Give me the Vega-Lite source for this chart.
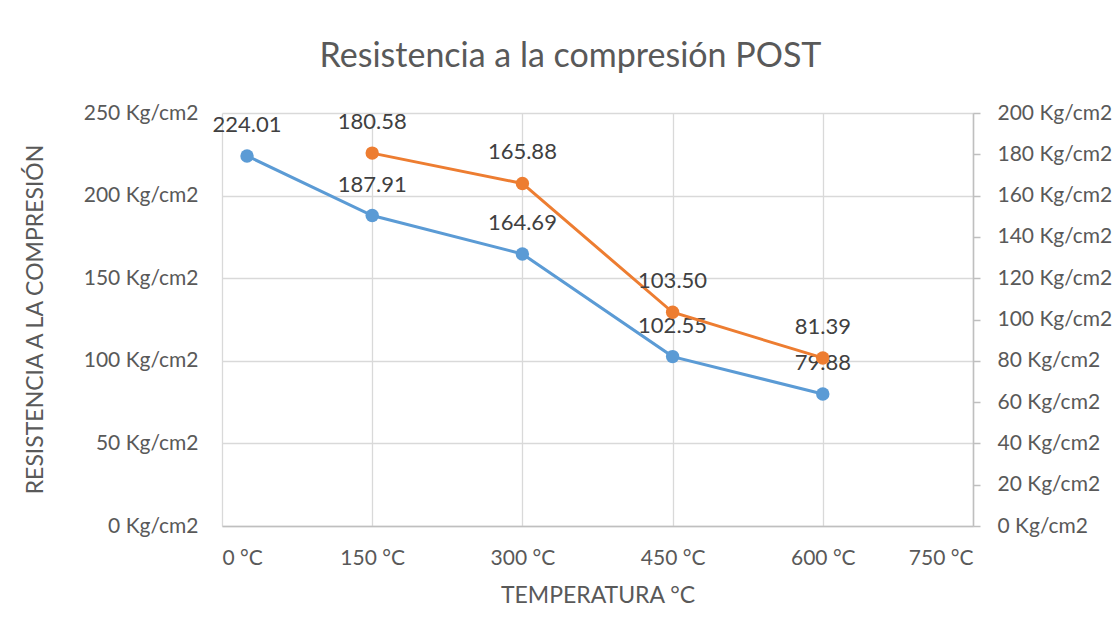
{
  "$schema": "https://vega.github.io/schema/vega-lite/v6.json",
  "autosize": "none",
  "width": 751,
  "height": 413,
  "padding": {"left": 222, "top": 113, "right": 143, "bottom": 111},
  "background": "white",
  "config": {
    "font": "Lato",
    "view": {"stroke": null},
    "axis": {"labelFont": "Lato", "titleFont": "Lato", "labelColor": "#595959", "titleColor": "#595959", "labelFontSize": 21, "titleFontSize": 23, "titleFontWeight": "normal", "gridColor": "#D9D9D9", "gridWidth": 1.3, "domainColor": "#BFBFBF", "domainWidth": 1.5, "tickColor": "#BFBFBF", "tickWidth": 1.5}
  },
  "title": {"text": "Resistencia a la compresión POST", "font": "Lato", "fontSize": 34, "fontWeight": "normal", "color": "#595959", "anchor": "middle", "frame": "group", "dx": -27, "offset": 28},
  "data": {"values": [
    {"serie": "A", "temp": 25, "valor": 224.01},
    {"serie": "A", "temp": 150, "valor": 187.91},
    {"serie": "A", "temp": 300, "valor": 164.69},
    {"serie": "A", "temp": 450, "valor": 102.55},
    {"serie": "A", "temp": 600, "valor": 79.88},
    {"serie": "B", "temp": 150, "valor": 180.58},
    {"serie": "B", "temp": 300, "valor": 165.88},
    {"serie": "B", "temp": 450, "valor": 103.5},
    {"serie": "B", "temp": 600, "valor": 81.39}
  ]},
  "encoding": {
    "x": {"field": "temp", "type": "quantitative",
      "scale": {"domain": [0, 750], "nice": false, "zero": false},
      "axis": {"values": [0, 150, 300, 450, 600, 750], "labelExpr": "datum.value + ' °C'", "grid": true, "ticks": false, "labelPadding": 21, "title": "TEMPERATURA °C", "titlePadding": 16}}
  },
  "layer": [
    {
      "transform": [{"filter": "datum.serie == 'A'"}],
      "encoding": {
        "y": {"field": "valor", "type": "quantitative",
          "scale": {"domain": [0, 250], "nice": false},
          "axis": {"orient": "left", "values": [0, 50, 100, 150, 200, 250], "labelExpr": "datum.value + ' Kg/cm2'", "grid": true, "domain": false, "ticks": false, "labelPadding": 24, "title": "RESISTENCIA A LA COMPRESIÓN", "titleX": -187, "titleY": 206, "titleBaseline": "middle", "titleAlign": "center", "titleAngle": -90}}
      },
      "layer": [
        {"mark": {"type": "line", "color": "#5B9BD5", "strokeWidth": 3}},
        {"mark": {"type": "point", "filled": true, "color": "#5B9BD5", "size": 180, "opacity": 1}},
        {"mark": {"type": "text", "dy": -31, "fontSize": 22, "color": "#404040", "font": "Lato"}, "encoding": {"text": {"field": "valor", "type": "quantitative", "format": ".2f"}}}
      ]
    },
    {
      "transform": [{"filter": "datum.serie == 'B'"}],
      "encoding": {
        "y": {"field": "valor", "type": "quantitative",
          "scale": {"domain": [0, 200], "nice": false},
          "axis": {"orient": "right", "values": [0, 20, 40, 60, 80, 100, 120, 140, 160, 180, 200], "labelExpr": "datum.value + ' Kg/cm2'", "grid": false, "domain": true, "ticks": true, "tickSize": 7, "labelPadding": 17, "title": null}}
      },
      "layer": [
        {"mark": {"type": "line", "color": "#ED7D31", "strokeWidth": 3}},
        {"mark": {"type": "point", "filled": true, "color": "#ED7D31", "size": 180, "opacity": 1}},
        {"mark": {"type": "text", "dy": -31, "fontSize": 22, "color": "#404040", "font": "Lato"}, "encoding": {"text": {"field": "valor", "type": "quantitative", "format": ".2f"}}}
      ]
    }
  ],
  "resolve": {"scale": {"y": "independent"}}
}
